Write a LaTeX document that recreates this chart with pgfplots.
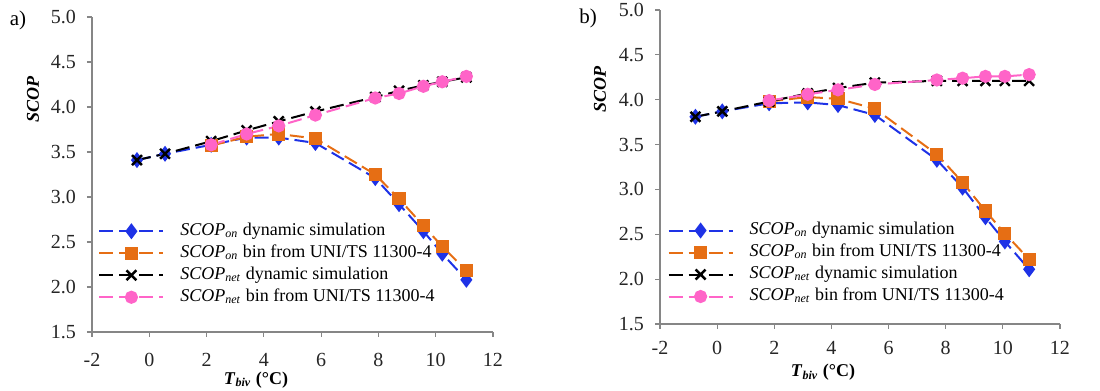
\documentclass[border=0pt]{standalone}
\usepackage{pgfplots}
\pgfplotsset{compat=1.18}
\usepackage{fontspec}
\setmainfont{Liberation Serif}
\definecolor{cblue}{RGB}{30,50,230}
\definecolor{corange}{RGB}{230,110,20}
\definecolor{cpink}{RGB}{255,100,200}
\definecolor{caxis}{RGB}{134,134,134}
\pgfplotsset{
  myaxis/.style={
    scale only axis,
    xmin=-2, xmax=12, ymin=1.5, ymax=5,
    xtick={-2,0,2,4,6,8,10,12},
    ytick={1.5,2,2.5,3,3.5,4,4.5,5},
    axis x line=bottom, axis y line=left,
    axis line style={-, draw=caxis, line width=0.6pt},
    tick style={draw=caxis, line width=0.6pt},
    tick align=outside,
    major tick length=2.5pt,
    /pgf/number format/assume math mode=true,
    font=\fontsize{9}{11}\selectfont,
    ticklabel style={font=\fontsize{10}{12}\selectfont, text=black!85},
    yticklabel style={xshift=-2pt, /pgf/number format/.cd, fixed, fixed zerofill, precision=1},
    legend cell align=left,
    legend image code/.code={
      \draw[mark repeat=2, mark phase=2, #1] plot coordinates {(0pt,0pt) (16pt,0pt) (32pt,0pt)};
    },
    legend style={draw=none, fill=none, inner sep=0pt, anchor=north west,
      font=\fontsize{9}{11}\selectfont,
      nodes={inner sep=1pt, text height=6.5pt, text depth=2.5pt},
      /tikz/every odd column/.append style={column sep=7pt}},
    every axis plot/.append style={line width=1pt, dash pattern=on 7pt off 3pt},
    sblue/.style={color=cblue, mark=diamond*, mark size=3.2pt, mark options={solid}},
    sorange/.style={color=corange, mark=square*, mark size=2.8pt, mark options={solid}},
    sblack/.style={color=black, mark=x, mark size=3.5pt, mark options={solid, line width=1.2pt}},
    spink/.style={color=cpink, mark=*, mark size=2.8pt, mark options={solid}},
  }
}
\begin{document}
\begin{tikzpicture}
\useasboundingbox (0,0) rectangle (550pt,195.5pt);
\node[font=\fontsize{10.5}{12}\selectfont] at (9pt,185.5pt) {a)};
\node[font=\fontsize{10.5}{12}\selectfont] at (294pt,186.5pt) {b)};
\begin{axis}[myaxis,
  at={(46pt,29.5pt)}, anchor=south west,
  width=200.5pt, height=157.5pt,
  xticklabel style={yshift=-4.5pt},
  xlabel={\textbf{\textit{T}\textsubscript{\textit{biv}} (°C)}},
  ylabel={\textbf{\textit{SCOP}}},
  every axis x label/.style={at={(rel axis cs:0.409,-0.152)}, anchor=center},
  every axis y label/.style={at={(rel axis cs:-0.147,0.737)}, rotate=90, anchor=center},
  legend style={at={(rel axis cs:0.015,0.356)}},
]
\addplot[sblue] coordinates {(-0.43,3.41) (0.55,3.48) (2.16,3.58) (3.40,3.66) (4.52,3.66) (5.80,3.60) (7.89,3.21) (8.72,2.92) (9.57,2.62) (10.23,2.37) (11.07,2.08)};
\addlegendentry{\textit{SCOP}\textsubscript{\textit{on}} dynamic simulation}
\addplot[sorange] coordinates {(2.16,3.57) (3.40,3.67) (4.52,3.70) (5.80,3.65) (7.89,3.25) (8.72,2.98) (9.57,2.68) (10.23,2.45) (11.07,2.18)};
\addlegendentry{\textit{SCOP}\textsubscript{\textit{on}} bin from UNI/TS 11300-4}
\addplot[sblack] coordinates {(-0.43,3.41) (0.55,3.48) (2.16,3.62) (3.40,3.74) (4.52,3.84) (5.80,3.95) (7.89,4.11) (8.72,4.18) (9.57,4.24) (10.23,4.28) (11.07,4.33)};
\addlegendentry{\textit{SCOP}\textsubscript{\textit{net}} dynamic simulation}
\addplot[spink] coordinates {(2.16,3.58) (3.40,3.70) (4.52,3.79) (5.80,3.91) (7.89,4.10) (8.72,4.15) (9.57,4.23) (10.23,4.28) (11.07,4.34)};
\addlegendentry{\textit{SCOP}\textsubscript{\textit{net}} bin from UNI/TS 11300-4}
\end{axis}
\begin{axis}[myaxis,
  at={(330pt,33.5pt)}, anchor=south west,
  width=200pt, height=157pt,
  xticklabel style={yshift=-2.5pt},
  xlabel={\textbf{\textit{T}\textsubscript{\textit{biv}} (°C)}},
  ylabel={\textbf{\textit{SCOP}}},
  every axis x label/.style={at={(rel axis cs:0.4075,-0.155)}, anchor=center},
  every axis y label/.style={at={(rel axis cs:-0.15,0.748)}, rotate=90, anchor=center},
  legend style={at={(rel axis cs:0.018,0.334)}},
]
\addplot[sblue] coordinates {(-0.76,3.81) (0.18,3.87) (1.82,3.96) (3.17,3.97) (4.23,3.94) (5.52,3.83) (7.69,3.33) (8.59,3.02) (9.39,2.69) (10.07,2.42) (10.92,2.11)};
\addlegendentry{\textit{SCOP}\textsubscript{\textit{on}} dynamic simulation}
\addplot[sorange] coordinates {(1.82,3.98) (3.17,4.03) (4.23,4.01) (5.52,3.90) (7.69,3.39) (8.59,3.08) (9.39,2.76) (10.07,2.51) (10.92,2.22)};
\addlegendentry{\textit{SCOP}\textsubscript{\textit{on}} bin from UNI/TS 11300-4}
\addplot[sblack] coordinates {(-0.76,3.81) (0.18,3.87) (1.82,3.98) (3.17,4.07) (4.23,4.13) (5.52,4.19) (7.69,4.21) (8.59,4.21) (9.39,4.21) (10.07,4.21) (10.92,4.21)};
\addlegendentry{\textit{SCOP}\textsubscript{\textit{net}} dynamic simulation}
\addplot[spink] coordinates {(1.82,3.99) (3.17,4.06) (4.23,4.11) (5.52,4.17) (7.69,4.22) (8.59,4.24) (9.39,4.26) (10.07,4.26) (10.92,4.28)};
\addlegendentry{\textit{SCOP}\textsubscript{\textit{net}} bin from UNI/TS 11300-4}
\end{axis}
\end{tikzpicture}
\end{document}
